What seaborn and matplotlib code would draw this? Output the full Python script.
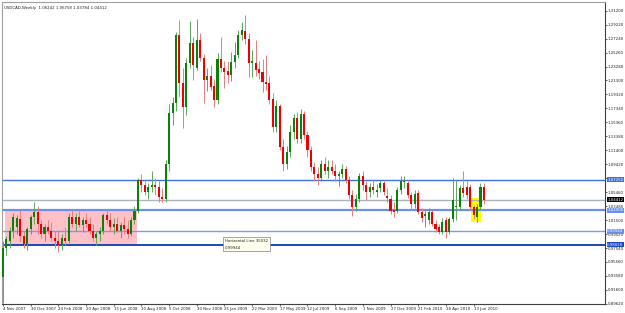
import numpy as np
import pandas as pd
import matplotlib
matplotlib.use("Agg")
import matplotlib.pyplot as plt
import seaborn as sns
from matplotlib.patches import Rectangle

# ---- data (weekly USDCAD, 4 Nov 2007 .. 4 Jul 2010) ----
opens = [.935,.976,.985,.999,1.005,1.017,.992,.981,1.002,1.019,1.026,1.009,.995,1.005,1.000,.990,.985,.980,.990,.985,
         1.020,1.010,1.020,1.008,1.015,1.010,1.000,.990,.995,1.000,1.022,1.015,1.005,1.010,1.000,1.008,1.002,.995,1.015,1.028,
         1.072,1.065,1.055,1.062,1.065,1.062,1.048,1.045,1.095,1.167,1.181,1.278,1.210,1.176,1.238,1.266,1.231,1.271,1.245,1.214,
         1.220,1.205,1.186,1.243,1.231,1.227,1.221,1.239,1.249,1.277,1.283,1.272,1.238,1.238,1.229,1.225,1.211,1.210,1.187,1.147,
         1.177,1.119,1.095,1.112,1.140,1.160,1.130,1.165,1.135,1.115,1.090,1.080,1.075,1.095,1.085,
         1.090,1.085,1.078,1.080,1.088,1.072,1.050,1.034,1.045,1.078,1.065,1.055,1.062,
         1.055,1.061,1.068,1.049,1.045,1.029,1.028,1.057,1.069,1.068,1.050,1.038,
         1.054,1.027,1.021,1.015,1.026,1.010,1.005,.998,1.015,.998,1.016,1.033,1.034,1.061,1.062,1.062,1.033,1.020,1.034,1.06242]
highs = [.985,.992,1.005,1.025,1.022,1.030,1.000,1.005,1.022,1.040,1.035,1.015,1.010,1.015,1.012,1.000,1.000,.995,1.005,1.025,
         1.030,1.025,1.028,1.020,1.025,1.020,1.010,1.000,1.005,1.025,1.030,1.025,1.018,1.020,1.012,1.020,1.015,1.020,1.035,1.075,
         1.080,1.070,1.068,1.085,1.075,1.070,1.060,1.100,1.180,1.190,1.282,1.299,1.230,1.245,1.297,1.275,1.300,1.280,1.250,1.230,
         1.235,1.215,1.252,1.275,1.240,1.240,1.254,1.268,1.285,1.296,1.306,1.280,1.256,1.271,1.240,1.243,1.249,1.220,1.195,1.185,
         1.180,1.130,1.120,1.150,1.165,1.168,1.172,1.170,1.142,1.120,1.098,1.090,1.100,1.105,1.100,
         1.100,1.095,1.085,1.095,1.092,1.078,1.058,1.052,1.082,1.085,1.070,1.068,1.072,
         1.066,1.072,1.072,1.060,1.050,1.040,1.062,1.077,1.077,1.072,1.055,1.058,
         1.058,1.032,1.030,1.032,1.030,1.015,1.010,1.018,1.020,1.020,1.075,1.072,1.065,1.084,1.070,1.066,1.036,1.038,1.068,1.06758]
lows = [.898,.965,.975,.990,.995,.985,.975,.972,.995,1.010,.995,.990,.985,.995,.985,.975,.970,.972,.980,.982,
        1.005,1.000,1.005,.998,1.005,.995,.985,.980,.985,.995,1.010,1.000,.995,.998,.990,.995,.990,.992,1.010,1.025,
        1.055,1.050,1.045,1.055,1.050,1.040,1.040,1.040,1.085,1.150,1.170,1.190,1.146,1.164,1.230,1.214,1.228,1.240,1.181,1.198,
        1.200,1.176,1.180,1.225,1.203,1.210,1.212,1.230,1.245,1.270,1.265,1.218,1.218,1.220,1.215,1.197,1.200,1.180,1.140,1.140,
        1.115,1.085,1.088,1.105,1.130,1.125,1.125,1.130,1.105,1.085,1.070,1.065,1.070,1.080,1.075,
        1.080,1.070,1.063,1.075,1.068,1.045,1.021,1.028,1.040,1.058,1.043,1.048,1.052,
        1.048,1.055,1.050,1.040,1.024,1.020,1.025,1.052,1.060,1.047,1.030,1.032,
        1.024,1.012,1.005,1.010,1.006,.998,.995,.995,.990,.995,1.012,1.015,1.030,1.048,1.045,1.030,1.016,1.012,1.030,1.03784]
closes = [.976,.988,.999,1.019,1.018,.992,.981,1.002,1.019,1.027,1.009,.995,1.005,1.000,.990,.985,.980,.990,.985,1.020,
          1.010,1.020,1.008,1.015,1.010,1.000,.990,.995,1.000,1.022,1.015,1.005,1.010,1.000,1.008,1.002,.995,1.015,1.028,1.072,
          1.065,1.055,1.062,1.065,1.062,1.048,1.045,1.095,1.167,1.181,1.278,1.210,1.176,1.238,1.266,1.235,1.271,1.245,1.214,1.220,
          1.204,1.186,1.243,1.231,1.225,1.221,1.239,1.249,1.277,1.285,1.272,1.238,1.240,1.228,1.224,1.211,1.208,1.186,1.147,1.177,
          1.119,1.095,1.112,1.140,1.160,1.130,1.165,1.135,1.115,1.090,1.080,1.075,1.095,1.085,1.090,
          1.085,1.078,1.080,1.088,1.072,1.050,1.034,1.045,1.078,1.065,1.055,1.062,1.058,
          1.058,1.068,1.055,1.047,1.028,1.027,1.057,1.070,1.071,1.050,1.038,1.052,
          1.027,1.018,1.023,1.027,1.010,1.002,.998,1.013,.998,1.016,1.043,1.035,1.060,1.054,1.051,1.033,1.022,1.034,1.062,1.04412]

date_labels = ["4 Nov 2007", "30 Dec 2007", "24 Feb 2008", "20 Apr 2008", "15 Jun 2008", "10 Aug 2008",
               "5 Oct 2008", "30 Nov 2008", "25 Jan 2009", "22 Mar 2009", "17 May 2009", "12 Jul 2009",
               "6 Sep 2009", "1 Nov 2009", "27 Dec 2009", "21 Feb 2010", "18 Apr 2010", "13 Jun 2010"]
hlines = [1.0725, 1.0290, 0.99944, 0.9802]
hline_labels = ["1.07250", "1.02900", "0.99944", "0.98020"]
bid_price = 1.04412
pink_zone = (1.0290, 0.9802)
yellow_zone = (1.047, 1.012)
title_text = "USDCAD,Weekly  1.06242 1.06758 1.03784 1.04412"

n = min(len(opens), len(highs), len(lows), len(closes))
df = pd.DataFrame({"open": opens[:n], "high": highs[:n], "low": lows[:n], "close": closes[:n]})
df["idx"] = np.arange(n)
df["bull"] = df["close"] >= df["open"]

sns.set_theme(style="white")
plt.rcParams["font.family"] = ["DejaVu Sans"]

FS = 2.8
W, H = 625, 313
RIGHT = 605
fig = plt.figure(figsize=(W / 100, H / 100), dpi=100)
ax = fig.add_axes([2 / W, 1 - 304 / H, (RIGHT - 2) / W, (304 - 2) / H])

step = 3.46
x0 = 3.0
ax.set_xlim((2 - x0) / step, (RIGHT - x0) / step)
y_top, y_bot = 1.3243, 0.8960
ax.set_ylim(y_bot, y_top)

# zones
ax.add_patch(Rectangle((0.6, pink_zone[1]), 38.1, pink_zone[0] - pink_zone[1],
                       facecolor="#ffc0c8", edgecolor="none", zorder=0))
ax.add_patch(Rectangle((135.35, yellow_zone[1]), 2.9, yellow_zone[0] - yellow_zone[1],
                       facecolor="#ffff00", edgecolor="none", zorder=0))

# horizontal lines
ax.axhline(hlines[0], color="#3f6fe0", lw=1.0, zorder=1)
ax.axhline(bid_price, color="#a8b4c0", lw=1.0, zorder=1)
ax.axhline(hlines[1], color="#6a90ea", lw=1.6, zorder=1)
ax.axhline(hlines[2], color="#7b9aeb", lw=1.0, zorder=1)
ax.axhline(hlines[3], color="#1d46b8", lw=1.4, zorder=1)

# candles
bull = df[df["bull"]]
bear = df[~df["bull"]]
ax.vlines(bull["idx"], bull["low"], bull["high"], color="#5aa85a", lw=0.7, zorder=2)
ax.vlines(bear["idx"], bear["low"], bear["high"], color="#e08080", lw=0.7, zorder=2)
ax.bar(bull["idx"], (bull["close"] - bull["open"]).clip(lower=0.0008), bottom=bull["open"],
       width=0.6, color="#0a820a", edgecolor="none", zorder=3)
ax.bar(bear["idx"], (bear["open"] - bear["close"]).clip(lower=0.0008), bottom=bear["close"],
       width=0.6, color="#ee0000", edgecolor="none", zorder=3)

# axes styling
for s in ["top", "right", "bottom", "left"]:
    ax.spines[s].set_visible(True)
    ax.spines[s].set_linewidth(0.8)
ax.spines["top"].set_color("#a0a0a0")
ax.spines["left"].set_color("#a0a0a0")
ax.spines["right"].set_color("#404040")
ax.spines["bottom"].set_color("#404040")

yt = [1.312 - k * 0.0198 for k in range(22)]
ax.yaxis.tick_right()
ax.set_yticks(yt)
ax.set_yticklabels([f"{v:.5f}" for v in yt], fontsize=FS, color="#202020")
ax.tick_params(axis="y", length=1.2, width=0.5, pad=0.6, direction="out", right=True, left=False)
xt = [8 * k for k in range(len(date_labels))]
ax.set_xticks(xt)
ax.set_xticklabels(date_labels, fontsize=FS, color="#202020", ha="left")
ax.tick_params(axis="x", length=1.5, width=0.5, pad=0.8, direction="out", bottom=True)
ax.grid(False)

# price labels on axis
def axis_tag(val, txt, fc, tc="white"):
    ax.text(1.0035, val, txt, transform=ax.get_yaxis_transform(), fontsize=FS, color=tc,
            va="center", ha="left", clip_on=False,
            bbox=dict(boxstyle="square,pad=0.12", fc=fc, ec="none"), zorder=5)

axis_tag(hlines[0], hline_labels[0], "#3f6fe0")
axis_tag(bid_price, "1.04412", "#000000")
axis_tag(hlines[1], hline_labels[1], "#6a90ea")
axis_tag(hlines[2], hline_labels[2], "#6a90ea")
axis_tag(hlines[3], hline_labels[3], "#1d46b8")

# title
ax.text(0.003, 0.988, title_text, transform=ax.transAxes, fontsize=FS, color="#202020",
        va="top", ha="left")

# tooltip
ax.text(64.2, 0.9880, "Horizontal Line 35032\n0.99944", fontsize=FS, color="#202020",
        va="top", ha="left", linespacing=1.8,
        bbox=dict(boxstyle="square,pad=0.45", fc="#ffffee", ec="#808080", lw=0.5), zorder=6)

fig.savefig("out.png", dpi=100)
